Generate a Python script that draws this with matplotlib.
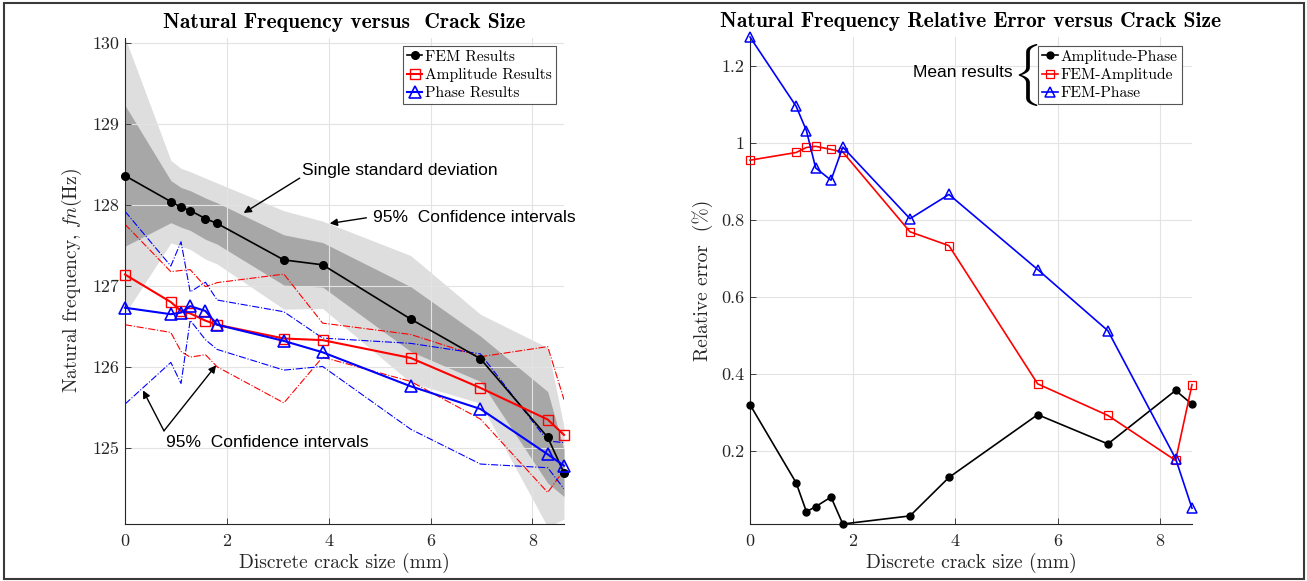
import matplotlib
matplotlib.use("Agg")
import matplotlib.pyplot as plt
import numpy as np
from matplotlib.ticker import FuncFormatter
from matplotlib.patches import Rectangle

# ---------------- data ----------------
crack = [0.0, 0.90, 1.10, 1.28, 1.58, 1.81, 3.12, 3.88, 5.61, 6.98, 8.30, 8.62]

fem_mean = [128.36, 128.04, 127.97, 127.93, 127.83, 127.77, 127.32, 127.26, 126.59, 126.10, 125.13, 124.69]
fem_std = [0.87, 0.26, 0.245, 0.245, 0.255, 0.255, 0.31, 0.275, 0.40, 0.28, 0.565, 0.29]

amp_mean = [127.14, 126.80, 126.69, 126.66, 126.57, 126.52, 126.35, 126.33, 126.11, 125.74, 125.35, 125.16]
amp_ci = [0.62, 0.375, 0.50, 0.54, 0.42, 0.52, 0.795, 0.21, 0.29, 0.385, 0.90, 0.435]

phase_mean = [126.73, 126.65, 126.67, 126.75, 126.69, 126.52, 126.32, 126.18, 125.76, 125.48, 124.92, 124.78]
phase_ci = [1.19, 0.595, 0.875, 0.175, 0.355, 0.305, 0.36, 0.175, 0.53, 0.68, 0.165, 0.285]

err_amp_phase = [0.320, 0.117, 0.042, 0.055, 0.080, 0.010, 0.031, 0.131, 0.294, 0.218, 0.357, 0.321]
err_fem_amp = [0.955, 0.975, 0.988, 0.991, 0.983, 0.976, 0.769, 0.733, 0.374, 0.292, 0.175, 0.372]
err_fem_phase = [1.275, 1.095, 1.032, 0.935, 0.903, 0.989, 0.803, 0.866, 0.671, 0.512, 0.180, 0.051]

left_yticks = [125, 126, 127, 128, 129, 130]
xticks = [0, 2, 4, 6, 8]
right_yticks = [0.2, 0.4, 0.6, 0.8, 1.0, 1.2]

# ---------------- style ----------------
plt.rcParams['font.family'] = 'cmr10'
plt.rcParams['mathtext.fontset'] = 'cm'
plt.rcParams['axes.formatter.use_mathtext'] = True
plt.rcParams['axes.unicode_minus'] = False

W, H = 1307, 581
fig = plt.figure(figsize=(W / 100, H / 100), dpi=100)
fig.patch.set_facecolor('white')

def px_rect(x0, y0, x1, y1):
    return [x0 / W, 1 - y1 / H, (x1 - x0) / W, (y1 - y0) / H]

# figure frame
fig.add_artist(Rectangle((4 / W, 1 - 579 / H), 1300 / W, 576 / H, transform=fig.transFigure,
                         fill=False, edgecolor='#3a3a3a', lw=1.5))

axL = fig.add_axes(px_rect(125, 38, 564, 524))
axR = fig.add_axes(px_rect(750, 37, 1192, 524))

dark = '#262626'
fmt = FuncFormatter(lambda v, p: '%g' % v)

def style(ax):
    for s in ['top', 'right']:
        ax.spines[s].set_visible(False)
    for s in ['left', 'bottom']:
        ax.spines[s].set_color(dark)
        ax.spines[s].set_linewidth(0.8)
    ax.tick_params(direction='in', length=4, width=0.6, colors=dark, labelsize=13)
    ax.tick_params(axis='x', pad=7)
    ax.tick_params(axis='y', pad=4)
    ax.grid(True, color='#e3e3e3', lw=0.8)
    ax.set_axisbelow('line')
    ax.xaxis.set_major_formatter(fmt)
    ax.yaxis.set_major_formatter(fmt)

# ---------------- left ----------------
x = np.array(crack)
m = np.array(fem_mean)
s = np.array(fem_std)
axL.fill_between(x, m - 1.96 * s, m + 1.96 * s, color='#dedede', lw=0, zorder=0.8)
axL.fill_between(x, m - s, m + s, color='#a7a7a7', lw=0, zorder=0.9)

am = np.array(amp_mean); ac = np.array(amp_ci)
pm = np.array(phase_mean); pc = np.array(phase_ci)
for yy in (am + ac, am - ac):
    axL.plot(x, yy, color='r', lw=0.8, ls='-.', zorder=2)
for yy in (pm + pc, pm - pc):
    axL.plot(x, yy, color='b', lw=0.8, ls='-.', zorder=2)

axL.plot(x, fem_mean, color='k', lw=1.2, marker='o', ms=5.5, mfc='k', label='FEM Results', zorder=3, clip_on=False)
axL.plot(x, amp_mean, color='r', lw=1.5, marker='s', ms=6.5, mfc='none', mew=1.0, label='Amplitude Results', zorder=3, clip_on=False)
axL.plot(x, phase_mean, color='b', lw=1.5, marker='^', ms=8, mfc='none', mew=1.2, label='Phase Results', zorder=3, clip_on=False)

style(axL)
axL.set_xlim(0, crack[-1])
axL.set_ylim(124.06, 130.06)
axL.set_xticks(xticks)
axL.set_yticks(left_yticks)
axL.set_xlabel('Discrete crack size (mm)', fontsize=14, color=dark, labelpad=3)
axL.set_ylabel('Natural frequency, $fn$(Hz)', fontsize=14, color=dark, labelpad=6)
axL.set_title('Natural Frequency versus  Crack Size', fontfamily='cmb10', fontsize=15.5, pad=7)

legL = axL.legend(loc='upper left', bbox_to_anchor=(0.633, 0.9835), borderaxespad=0,
                  prop=dict(family='cmr10', size=11.2), handlelength=1.0, handletextpad=0.2,
                  borderpad=0.25, labelspacing=0.27, fancybox=False, framealpha=1,
                  edgecolor='#555555')
legL.get_frame().set_linewidth(0.8)

sans = 'Liberation Sans'
ap = dict(arrowstyle='-|>', color='k', lw=1.0, mutation_scale=11, shrinkA=0, shrinkB=0)
axL.text(3.47, 128.42, 'Single standard deviation', family=sans, fontsize=12.5, ha='left', va='center')
axL.annotate('', xy=(2.33, 127.90), xytext=(3.43, 128.33), arrowprops=ap)
axL.text(4.86, 127.84, '95%  Confidence intervals', family=sans, fontsize=12.5, ha='left', va='center')
axL.annotate('', xy=(4.02, 127.77), xytext=(4.74, 127.84), arrowprops=ap)
axL.text(0.81, 125.06, '95%  Confidence intervals', family=sans, fontsize=12.5, ha='left', va='center')
axL.annotate('', xy=(0.353, 125.71), xytext=(0.765, 125.21), arrowprops=ap)
axL.annotate('', xy=(1.79, 126.02), xytext=(0.765, 125.21), arrowprops=ap)

# ---------------- right ----------------
axR.plot(x, err_amp_phase, color='k', lw=1.2, marker='o', ms=5, mfc='k', label='Amplitude-Phase', zorder=3, clip_on=False)
axR.plot(x, err_fem_amp, color='r', lw=1.2, marker='s', ms=5.5, mfc='none', mew=0.9, label='FEM-Amplitude', zorder=3, clip_on=False)
axR.plot(x, err_fem_phase, color='b', lw=1.2, marker='^', ms=7.5, mfc='none', mew=1.1, label='FEM-Phase', zorder=3, clip_on=False)

style(axR)
allerr = err_amp_phase + err_fem_amp + err_fem_phase
axR.set_xlim(0, crack[-1])
axR.set_ylim(min(allerr), max(allerr))
axR.set_xticks(xticks)
axR.set_yticks(right_yticks)
axR.set_xlabel('Discrete crack size (mm)', fontsize=14, color=dark, labelpad=3)
axR.set_ylabel('Relative error  (%)', fontsize=14, color=dark, labelpad=6)
axR.set_title('Natural Frequency Relative Error versus Crack Size', fontfamily='cmb10', fontsize=15.5, pad=7)

legR = axR.legend(loc='upper left', bbox_to_anchor=(0.652, 0.982), borderaxespad=0,
                  prop=dict(family='cmr10', size=11.2), handlelength=1.0, handletextpad=0.2,
                  borderpad=0.25, labelspacing=0.27, fancybox=False, framealpha=1,
                  edgecolor='#555555')
legR.get_frame().set_linewidth(0.8)

axR.text(5.13, 1.183, 'Mean results', family=sans, fontsize=12.5, ha='right', va='center')
axR.text(5.36, 1.177, r'$\{$', fontsize=37, ha='center', va='center')

fig.savefig('out.png', dpi=100)
